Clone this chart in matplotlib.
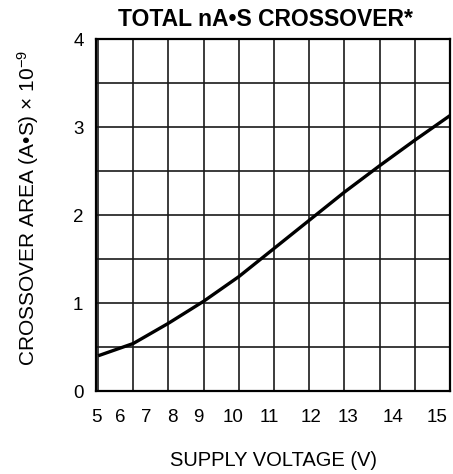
import matplotlib
matplotlib.use("Agg")
import matplotlib.pyplot as plt
import numpy as np

# supply voltage (V) and crossover area (A*S x 1e-9)
voltage = [5, 6, 7, 8, 9, 10, 11, 12, 13, 14, 15]
area = [0.40, 0.54, 0.77, 1.02, 1.30, 1.62, 1.94, 2.26, 2.56, 2.85, 3.13]

x_labels = ["5", "6", "7", "8", "9", "10", "11", "12", "13", "14", "15"]
# the printed labels drift from the grid lines in the original sheet
x_label_pos = [4.94, 5.62, 6.36, 7.12, 7.85, 8.84, 9.86, 11.05, 12.09, 13.39, 14.63]
y_ticks = [0, 1, 2, 3, 4]

plt.rcParams['font.family'] = ['Liberation Sans', 'DejaVu Sans']
plt.rcParams['mathtext.fontset'] = 'custom'
plt.rcParams['mathtext.rm'] = 'Liberation Sans'
plt.rcParams['mathtext.it'] = 'Liberation Sans'

fig = plt.figure(figsize=(4.53, 4.74), dpi=100)
ax = fig.add_axes([96 / 453, 1 - 391 / 474, 354 / 453, 352 / 474])

# grid: every volt, every 0.5 units
for v in np.arange(5, 16, 1):
    ax.axvline(v, color='#1a1a1a', lw=1.2, zorder=1)
for a in np.arange(0, 4.01, 0.5):
    ax.axhline(a, color='#1a1a1a', lw=1.2, zorder=1)

ax.plot(voltage, area, color='black', lw=2.4, solid_capstyle='butt', zorder=3)

ax.set_xlim(5, 15)
ax.set_ylim(0, 4)
for s in ax.spines.values():
    s.set_linewidth(1.6)
    s.set_zorder(4)

ax.set_xticks(x_label_pos)
ax.set_xticklabels(x_labels)
ax.set_yticks(y_ticks)
ax.tick_params(axis='both', length=0, labelsize=13.5)
ax.tick_params(axis='x', pad=13)
ax.tick_params(axis='y', pad=9)

ax.set_xlabel('SUPPLY VOLTAGE (V)', fontsize=14.5, labelpad=18)
ax.set_ylabel('CROSSOVER AREA (A•S) × 10$^{-9}$', fontsize=15)
ax.yaxis.set_label_coords(-0.155, 0.52)
ax.set_title('TOTAL nA•S CROSSOVER*', fontsize=16.5, fontweight='bold', pad=9, x=0.48)

fig.savefig('out.png', dpi=100)
